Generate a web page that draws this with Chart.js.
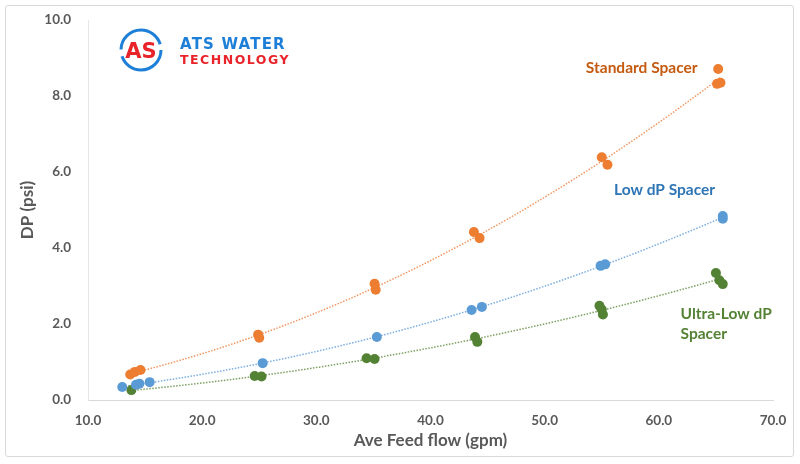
<!DOCTYPE html>
<html>
<head>
<meta charset="utf-8">
<script src="https://cdn.jsdelivr.net/npm/chart.js@4.4.1/dist/chart.umd.min.js"></script>
<style>
  html, body { margin: 0; padding: 0; background: #fff; }
  #wrap { position: relative; width: 800px; height: 464px; }
  #frame { position: absolute; left: 5px; top: 5px; width: 789px; height: 452px; border: 1px solid #d9d9d9; border-radius: 3px; box-sizing: border-box; pointer-events: none; }
  #logo { position: absolute; left: 118px; top: 27px; width: 180px; height: 48px; }
  #logo svg { position: absolute; left: 0; top: 0; }
  .logo-text { position: absolute; left: 62px; font-family: "DejaVu Sans", sans-serif; font-weight: bold; white-space: nowrap; }
  #logo1 { top: 8px; font-size: 15px; color: #1e7fd8; letter-spacing: 1.2px; }
  #logo2 { top: 25px; font-size: 12.5px; color: #e8232a; letter-spacing: 1.5px; }
</style>
</head>
<body>
<div id="wrap">
  <canvas id="chart" width="800" height="464"></canvas>
  <div id="frame"></div>
  <div id="logo">
    <svg width="50" height="50" viewBox="0 0 50 50">
      <circle cx="23" cy="23" r="20" fill="none" stroke="#1e7fd8" stroke-width="3" stroke-dasharray="56 7"/>
      <text x="23" y="31" text-anchor="middle" font-family="DejaVu Sans" font-weight="bold" font-size="21" fill="#e8232a">AS</text>
    </svg>
    <div class="logo-text" id="logo1">ATS WATER</div>
    <div class="logo-text" id="logo2">TECHNOLOGY</div>
  </div>
</div>
<script>
// Feed flow (gpm) and pressure drop (psi)
const standardFlow = [13.7, 14.1, 14.6, 24.9, 25.0, 35.1, 35.2, 43.8, 44.3, 55.0, 55.5, 65.2, 65.1, 65.4];
const standardDP   = [0.67, 0.74, 0.79, 1.72, 1.64, 3.06, 2.90, 4.42, 4.26, 6.39, 6.19, 8.71, 8.32, 8.35];

const lowFlow = [13.0, 14.2, 14.5, 15.4, 25.3, 35.3, 43.6, 44.5, 54.9, 55.3, 65.6, 65.6];
const lowDP   = [0.34, 0.40, 0.43, 0.47, 0.97, 1.66, 2.37, 2.45, 3.53, 3.57, 4.84, 4.77];

const ultraFlow = [13.8, 24.6, 25.2, 34.4, 35.1, 43.9, 44.1, 54.8, 55.0, 55.1, 65.0, 65.6, 65.3];
const ultraDP   = [0.26, 0.63, 0.62, 1.10, 1.08, 1.66, 1.53, 2.48, 2.38, 2.25, 3.34, 3.05, 3.15];

const xTicks = [10, 20, 30, 40, 50, 60, 70];
const yTicks = [0, 2, 4, 6, 8, 10];

// series labels placed in data units
const labelNames = ['Standard Spacer', 'Low dP Spacer', 'Ultra-Low dP', 'Spacer'];
const labelX = [58.5, 60.5, 61.9, 61.9];
const labelY = [8.74, 5.53, 2.26, 1.74];

const ORANGE = '#ED7D31', BLUE = '#5B9BD5', GREEN = '#548235';

function toPoints(xs, ys) {
    return xs.map((x, i) => ({ x: x, y: ys[i] }));
}

// least squares quadratic fit, like the Excel trendline
function quadFit(xs, ys) {
    let s = [0, 0, 0, 0, 0], t = [0, 0, 0];
    xs.forEach((x, i) => {
        for (let k = 0; k < 5; k++) s[k] += Math.pow(x, k);
        for (let k = 0; k < 3; k++) t[k] += ys[i] * Math.pow(x, k);
    });
    const m = [[s[0], s[1], s[2], t[0]], [s[1], s[2], s[3], t[1]], [s[2], s[3], s[4], t[2]]];
    for (let c = 0; c < 3; c++) {
        for (let r = c + 1; r < 3; r++) {
            const f = m[r][c] / m[c][c];
            for (let k = c; k < 4; k++) m[r][k] -= f * m[c][k];
        }
    }
    const a = [0, 0, 0];
    for (let r = 2; r >= 0; r--) {
        let v = m[r][3];
        for (let k = r + 1; k < 3; k++) v -= m[r][k] * a[k];
        a[r] = v / m[r][r];
    }
    return x => a[0] + a[1] * x + a[2] * x * x;
}

const trendPlugin = {
    id: 'trend',
    beforeDatasetsDraw(chart) {
        const ctx = chart.ctx, xs = chart.scales.x, ys = chart.scales.y;
        chart.data.datasets.forEach(ds => {
            const fx = ds.data.map(p => p.x), fy = ds.data.map(p => p.y);
            const f = quadFit(fx, fy);
            const x0 = Math.min(...fx), x1 = Math.max(...fx);
            ctx.save();
            ctx.strokeStyle = ds.trendColor;
            ctx.lineWidth = 1.5;
            ctx.setLineDash([1.5, 1.5]);
            ctx.beginPath();
            for (let i = 0; i <= 100; i++) {
                const x = x0 + (x1 - x0) * i / 100;
                const px = xs.getPixelForValue(x), py = ys.getPixelForValue(f(x));
                if (i === 0) ctx.moveTo(px, py); else ctx.lineTo(px, py);
            }
            ctx.stroke();
            ctx.restore();
        });
    },
    afterDraw(chart) {
        const ctx = chart.ctx, xs = chart.scales.x, ys = chart.scales.y;
        const colors = ['#C55A11', '#2E75B6', '#548235', '#548235'];
        const aligns = ['center', 'center', 'left', 'left'];
        ctx.save();
        ctx.font = 'bold 15.5px Lato';
        ctx.textBaseline = 'middle';
        labelNames.forEach((t, i) => {
            ctx.fillStyle = colors[i];
            ctx.textAlign = aligns[i];
            ctx.fillText(t, xs.getPixelForValue(labelX[i]), ys.getPixelForValue(labelY[i]));
        });
        ctx.restore();
    }
};

new Chart(document.getElementById('chart'), {
    type: 'scatter',
    data: {
        datasets: [{
            label: 'Standard Spacer',
            data: toPoints(standardFlow, standardDP),
            backgroundColor: ORANGE,
            borderColor: ORANGE,
            trendColor: 'rgba(240,140,80,0.9)',
            pointRadius: 5,
            borderWidth: 0
        }, {
            label: 'Low dP Spacer',
            data: toPoints(lowFlow, lowDP),
            backgroundColor: BLUE,
            borderColor: BLUE,
            trendColor: 'rgba(110,165,220,0.9)',
            pointRadius: 5,
            borderWidth: 0
        }, {
            label: 'Ultra-Low dP Spacer',
            data: toPoints(ultraFlow, ultraDP),
            backgroundColor: GREEN,
            borderColor: GREEN,
            trendColor: 'rgba(110,150,80,0.9)',
            pointRadius: 5,
            borderWidth: 0
        }]
    },
    options: {
        responsive: false,
        animation: false,
        layout: { padding: { left: 0, right: 27, top: 20, bottom: 13 } },
        plugins: {
            legend: { display: false },
            tooltip: { enabled: false }
        },
        scales: {
            x: {
                type: 'linear',
                min: 10,
                max: 70,
                afterBuildTicks: s => { s.ticks = xTicks.map(v => ({ value: v })); },
                afterFit: s => { s.height = 51; },
                grid: { color: 'transparent', drawTicks: false },
                border: { display: true, color: '#d9d9d9', width: 1 },
                ticks: {
                    padding: 13,
                    color: '#595959',
                    font: { family: 'Lato', size: 13.5, weight: 'bold' },
                    callback: v => v.toFixed(1)
                },
                title: {
                    display: true,
                    text: 'Ave Feed flow (gpm)',
                    color: '#595959',
                    font: { family: 'Lato', size: 17, weight: 'bold' },
                    padding: { top: 0, bottom: 0 }
                }
            },
            y: {
                min: 0,
                max: 10,
                afterBuildTicks: s => { s.ticks = yTicks.map(v => ({ value: v })); },
                afterFit: s => { s.width = 88; s.paddingTop = 0; s.paddingBottom = 0; },
                grid: { color: 'transparent', drawTicks: false },
                border: { display: true, color: '#e6e6e6', width: 1 },
                ticks: {
                    padding: 17,
                    color: '#595959',
                    font: { family: 'Lato', size: 13.5, weight: 'bold' },
                    callback: v => v.toFixed(1)
                },
                title: {
                    display: true,
                    text: 'DP (psi)',
                    color: '#595959',
                    font: { family: 'Lato', size: 17, weight: 'bold' },
                    padding: { top: 17, bottom: 0 }
                }
            }
        }
    },
    plugins: [trendPlugin]
});
</script>
</body>
</html>
